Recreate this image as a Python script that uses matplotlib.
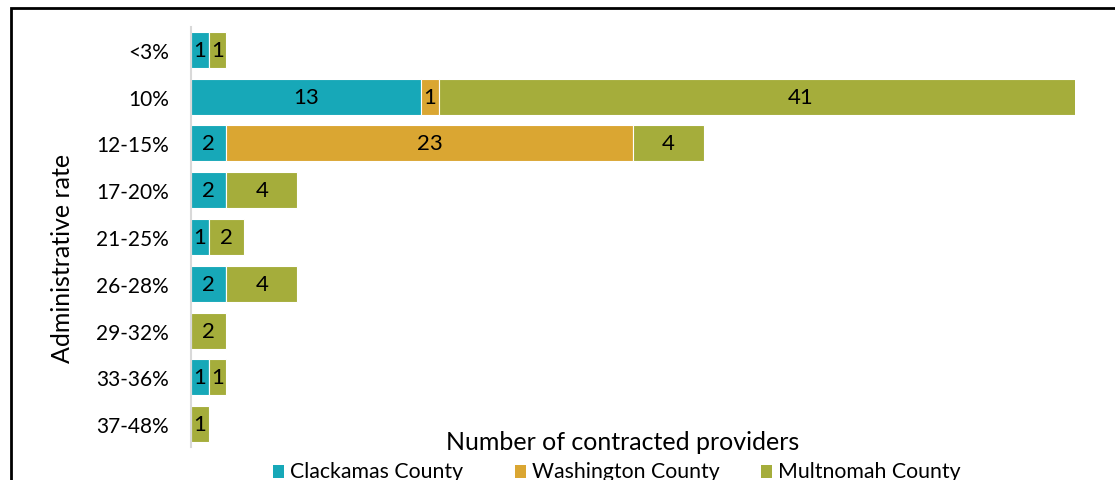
import matplotlib
matplotlib.use("Agg")
import matplotlib.pyplot as plt
from matplotlib.patches import Rectangle
import numpy as np

categories = ["<3%", "10%", "12-15%", "17-20%", "21-25%", "26-28%", "29-32%", "33-36%", "37-48%"]
clackamas = [1, 13, 2, 2, 1, 2, 0, 1, 0]
washington = [0, 1, 23, 0, 0, 0, 0, 0, 0]
multnomah = [1, 41, 4, 4, 2, 4, 2, 1, 1]
series_names = ["Clackamas County", "Washington County", "Multnomah County"]
colors = ["#17A8B8", "#DAA632", "#A5AD3B"]

plt.rcParams['font.family'] = ['Lato', 'DejaVu Sans']

W, H = 1115, 481
fig = plt.figure(figsize=(W / 100, H / 100), dpi=100)
ax = fig.add_axes([191 / W, 1 - 448.4 / H, (1075 - 191) / W, (448.4 - 27.6) / H])

y = np.arange(len(categories))
left = np.zeros(len(categories))
for vals, name, col in zip([clackamas, washington, multnomah], series_names, colors):
    vals = np.array(vals, dtype=float)
    ax.barh(y, vals, left=left, height=0.77, color=col, edgecolor="white",
            linewidth=0.8, label=name)
    for yi, v, l in zip(y, vals, left):
        if v > 0:
            ax.text(l + v / 2, yi, f"{int(v)}", ha="center", va="center",
                    fontsize=16, color="black")
    left += vals

ax.set_xlim(0, 50)
ax.set_ylim(len(categories) - 0.5, -0.5)
ax.set_yticks(y)
ax.set_yticklabels(categories, fontsize=15)
ax.tick_params(axis="y", length=0, pad=16)
ax.set_xticks([])
for s in ["top", "right", "bottom"]:
    ax.spines[s].set_visible(False)
ax.spines["left"].set_color("#D9D9D9")
ax.spines["left"].set_linewidth(1.5)

fig.text(62 / W, 1 - 258 / H, "Administrative rate", rotation=90, ha="center",
         va="center", fontsize=18)
fig.text(623 / W, 1 - 443 / H, "Number of contracted providers", ha="center",
         va="center", fontsize=18)

# legend
leg_x = [273, 515, 761]
for xs, name, col in zip(leg_x, series_names, colors):
    fig.patches.append(Rectangle((xs / W, 1 - 479 / H), 11 / W, 13 / H,
                                 transform=fig.transFigure, facecolor=col, edgecolor="none"))
    fig.text((xs + 17) / W, 1 - 472 / H, name, ha="left", va="center", fontsize=15.3)

fig.patches.append(Rectangle((11 / W, -0.1), 1.2, 1 - 9 / H + 0.1, transform=fig.transFigure,
                             fill=False, edgecolor="black", linewidth=2))

fig.savefig("out.png", dpi=100)
